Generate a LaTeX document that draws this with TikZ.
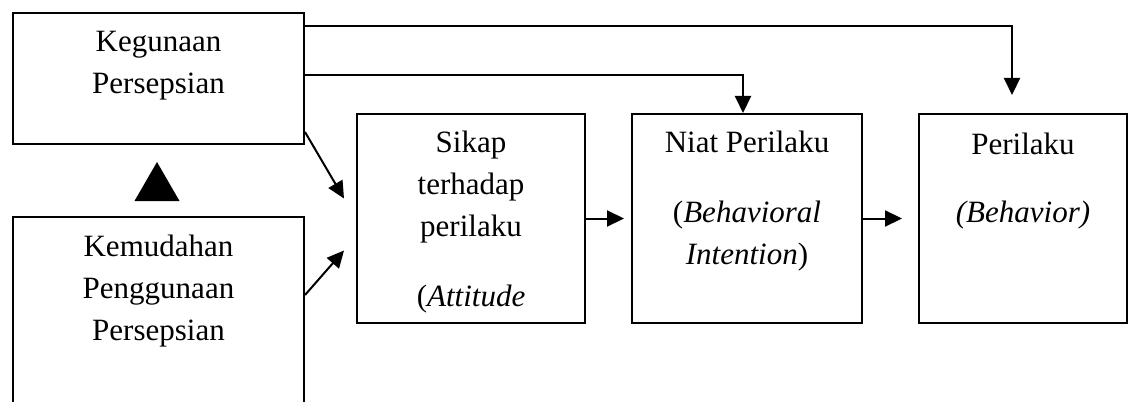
\documentclass[tikz,border=0pt]{standalone}
\usepackage{fontspec}
\setmainfont{Liberation Serif}
\usetikzlibrary{arrows.meta,positioning,shapes.geometric}
\tikzset{
  box/.style={draw, line width=1pt, inner sep=0pt},
  txt/.style={font=\fontsize{15.5}{21}\selectfont, align=center, inner sep=0pt},
  arr/.style={-{Triangle[length=8.5pt,width=8pt]}, line width=1pt}
}
\begin{document}
\begin{tikzpicture}[x=0.5pt,y=-0.5pt]
			\clip (0,0) rectangle (1128,401);
			% boxes
			\node [box, minimum width=145.5pt, minimum height=65.5pt] (guna) at (158.5,78.5) {};
			\node [box, minimum width=145.5pt, minimum height=106.5pt] (mudah) at (158.5,323.5) {};
			\node [box, minimum width=114pt, minimum height=104.5pt] (sikap) at (471,218.5) {};
			\node [box, minimum width=115pt, minimum height=104.5pt] (niat) at (747,218.5) {};
			\node [box, minimum width=104pt, minimum height=104.5pt] (laku) at (1023,218.5) {};
			% texts
			\node [txt, below=9.5pt of guna.north] (gunatxt) {Kegunaan\\Persepsian};
			\node [txt, below=9.5pt of mudah.north] (mudahtxt) {Kemudahan\\Penggunaan\\Persepsian};
			\node [txt, below=9pt of sikap.north] (sikaptxt) {Sikap\\terhadap\\perilaku\\[14pt](\textit{Attitude}};
			\node [txt, below=9pt of niat.north] (niattxt) {Niat Perilaku\\[14pt](\textit{Behavioral}\\\textit{Intention})};
			\node [txt, below=10pt of laku.north] (lakutxt) {Perilaku\\[13pt]\textit{(Behavior)}};
			% triangle
			\node [regular polygon, regular polygon sides=3, fill, minimum size=26pt, inner sep=0pt] (tri) at (157,188) {};
			% connectors
			\coordinate (lakutip) at (1012,95);
			\draw [arr] ([yshift=-7pt]guna.north east) -| (lakutip);
			\draw [arr] ([yshift=-31.5pt]guna.north east) -| ([xshift=-2pt]niat.north);
			\draw [arr] ([yshift=6.5pt]guna.south east) -- ([xshift=-6pt,yshift=10pt]sikap.west);
			\draw [arr] ([yshift=-39.5pt]mudah.north east) -- ([xshift=-6pt,yshift=-16pt]sikap.west);
			\draw [arr] (sikap.east) -- ([xshift=-3.5pt]niat.west);
			\draw [arr] (niat.east) -- ([xshift=-8pt]laku.west);
		\end{tikzpicture}
\end{document}
